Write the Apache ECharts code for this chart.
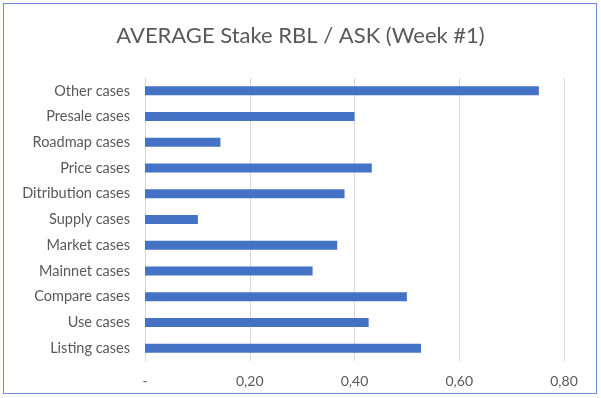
<!DOCTYPE html>
<html>
<head>
<meta charset="utf-8">
<script src="https://cdn.jsdelivr.net/npm/echarts@6/dist/echarts.min.js"></script>
<style>
  html, body { margin: 0; padding: 0; background: #fff; }
  #main { width: 601px; height: 398px; position: relative; }
  #frame {
    position: absolute; left: 3px; top: 3px; width: 592px; height: 389px;
    border: 1px solid #6f8fd2; pointer-events: none;
  }
</style>
</head>
<body>
<div id="main"></div>
<div id="frame"></div>
<script>
// categories, bottom to top (as drawn on the category axis)
const categories = [
  'Listing cases', 'Use cases', 'Compare cases', 'Mainnet cases', 'Market cases',
  'Supply cases', 'Ditribution cases', 'Price cases', 'Roadmap cases', 'Presale cases', 'Other cases'
];
const stakeValues = [0.527, 0.427, 0.500, 0.320, 0.367, 0.101, 0.381, 0.433, 0.144, 0.400, 0.752];

const chart = echarts.init(document.getElementById('main'));

const option = {
  animation: false,
  title: {
    text: 'AVERAGE Stake RBL / ASK (Week #1)',
    left: 'center',
    top: 20,
    textStyle: {
      fontFamily: 'Lato',
      fontWeight: 'normal',
      fontSize: 22,
      color: '#595959'
    }
  },
  grid: {
    left: 145,
    right: 37,
    top: 78,
    bottom: 37
  },
  xAxis: {
    type: 'value',
    min: 0,
    max: 0.8,
    interval: 0.2,
    axisLine: { show: false },
    axisTick: { show: false },
    splitLine: { lineStyle: { color: '#d9d9d9', width: 1 } },
    axisLabel: {
      margin: 13,
      fontFamily: 'Lato',
      fontSize: 14,
      color: '#595959',
      formatter: function (v) {
        return v === 0 ? '-' : v.toFixed(2).replace('.', ',');
      }
    }
  },
  yAxis: {
    type: 'category',
    data: categories,
    axisLine: { show: true, lineStyle: { color: '#d9d9d9' } },
    axisTick: { show: false },
    axisLabel: {
      margin: 15,
      fontFamily: 'Lato',
      fontSize: 14.5,
      color: '#595959'
    }
  },
  series: [
    {
      name: 'Stake',
      type: 'bar',
      data: stakeValues,
      barWidth: 9,
      itemStyle: { color: '#4472c4' }
    }
  ]
};

chart.setOption(option);
</script>
</body>
</html>
